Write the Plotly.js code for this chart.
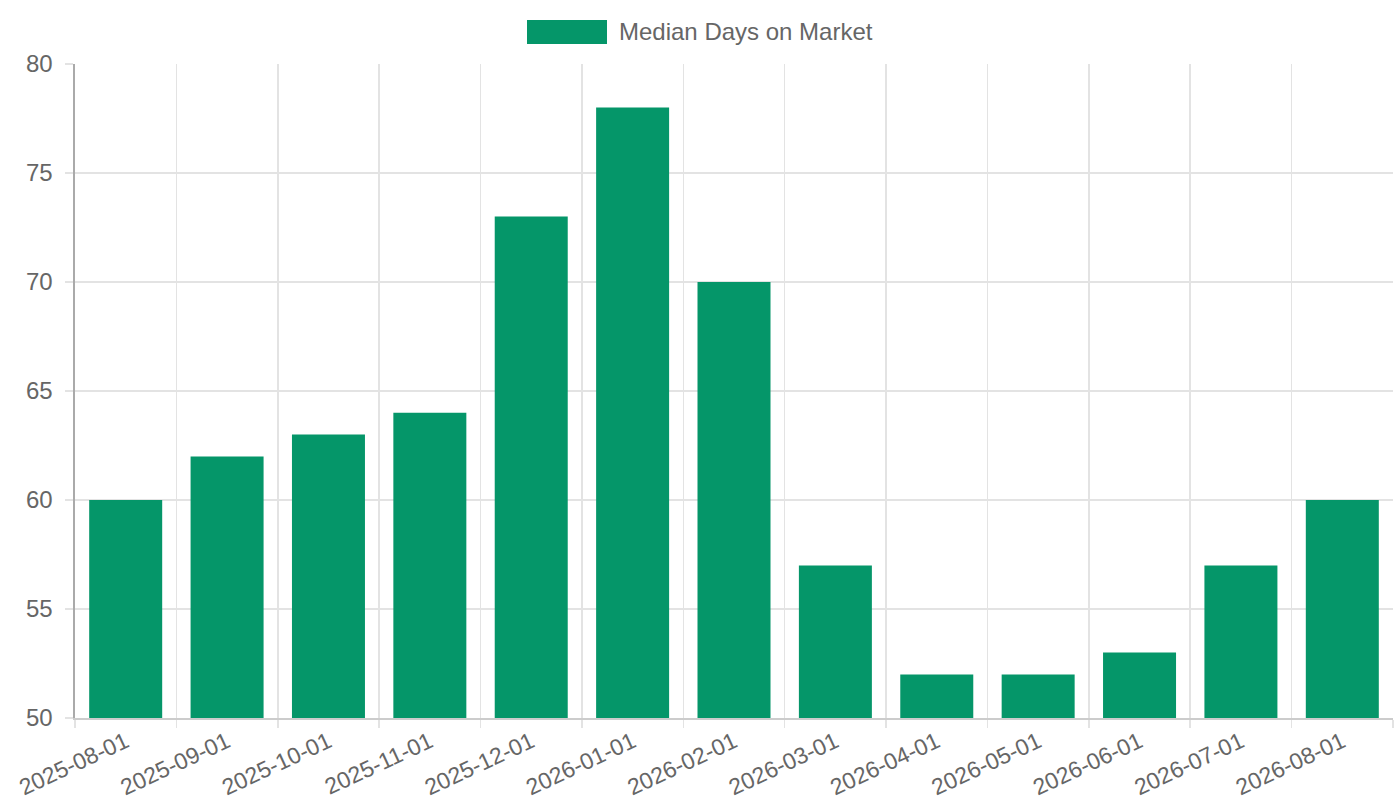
<!DOCTYPE html>
<html>
<head>
<meta charset="utf-8">
<script src="https://cdn.plot.ly/plotly-3.0.1.min.js"></script>
<style>
  html, body { margin: 0; padding: 0; background: #fff; }
  #chart { width: 1400px; height: 800px; }
</style>
</head>
<body>
<div id="chart"></div>
<script>
const months = ['2025-08-01', '2025-09-01', '2025-10-01', '2025-11-01', '2025-12-01', '2026-01-01',
  '2026-02-01', '2026-03-01', '2026-04-01', '2026-05-01', '2026-06-01', '2026-07-01', '2026-08-01'];
const medianDays = [60, 62, 63, 64, 73, 78, 70, 57, 52, 52, 53, 57, 60];
const seriesName = 'Median Days on Market';
const yTicks = [50, 55, 60, 65, 70, 75, 80];

const barColor = '#059669';
const textColor = '#666666';
const gridColor = '#e3e3e3';

const trace = {
  type: 'bar',
  x: months,
  y: medianDays,
  name: seriesName,
  marker: { color: barColor },
  hoverinfo: 'x+y'
};

const layout = {
  width: 1400,
  height: 800,
  margin: { l: 75, r: 7, t: 64, b: 82 },
  paper_bgcolor: '#ffffff',
  plot_bgcolor: '#ffffff',
  font: { family: '"Liberation Sans", Arial, sans-serif', size: 24, color: textColor },
  showlegend: false,
  bargap: 0.28,
  xaxis: {
    type: 'category',
    tickson: 'boundaries',
    showgrid: true,
    gridcolor: gridColor,
    gridwidth: 1.6,
    ticks: 'outside',
    ticklen: 8,
    tickwidth: 1.6,
    tickcolor: gridColor,
    tickangle: -25,
    tickfont: { size: 23 },
    ticklabelstandoff: 0,
    showline: true,
    linecolor: '#cccccc',
    linewidth: 1.6,
    zeroline: false,
    fixedrange: true
  },
  yaxis: {
    range: [50, 80],
    tickvals: yTicks,
    showgrid: true,
    gridcolor: gridColor,
    gridwidth: 1.6,
    ticks: 'outside',
    ticklen: 8,
    tickwidth: 1.6,
    tickcolor: gridColor,
    ticklabelstandoff: 8,
    showline: true,
    linecolor: '#aaaaaa',
    linewidth: 1.6,
    zeroline: false,
    fixedrange: true
  },
  // legend drawn by hand to get the wide swatch
  shapes: [{
    type: 'rect', xref: 'paper', yref: 'paper',
    x0: (527 - 75) / 1318, x1: (607 - 75) / 1318,
    y0: (718 - 44) / 654, y1: (718 - 20) / 654,
    fillcolor: barColor, line: { width: 0 }
  }],
  annotations: [{
    xref: 'paper', yref: 'paper',
    x: (617 - 75) / 1318, y: (718 - 32) / 654,
    xanchor: 'left', yanchor: 'middle',
    text: seriesName, showarrow: false,
    font: { size: 24, color: textColor }
  }]
};

Plotly.newPlot('chart', [trace], layout, { displayModeBar: false, staticPlot: true });
</script>
</body>
</html>
